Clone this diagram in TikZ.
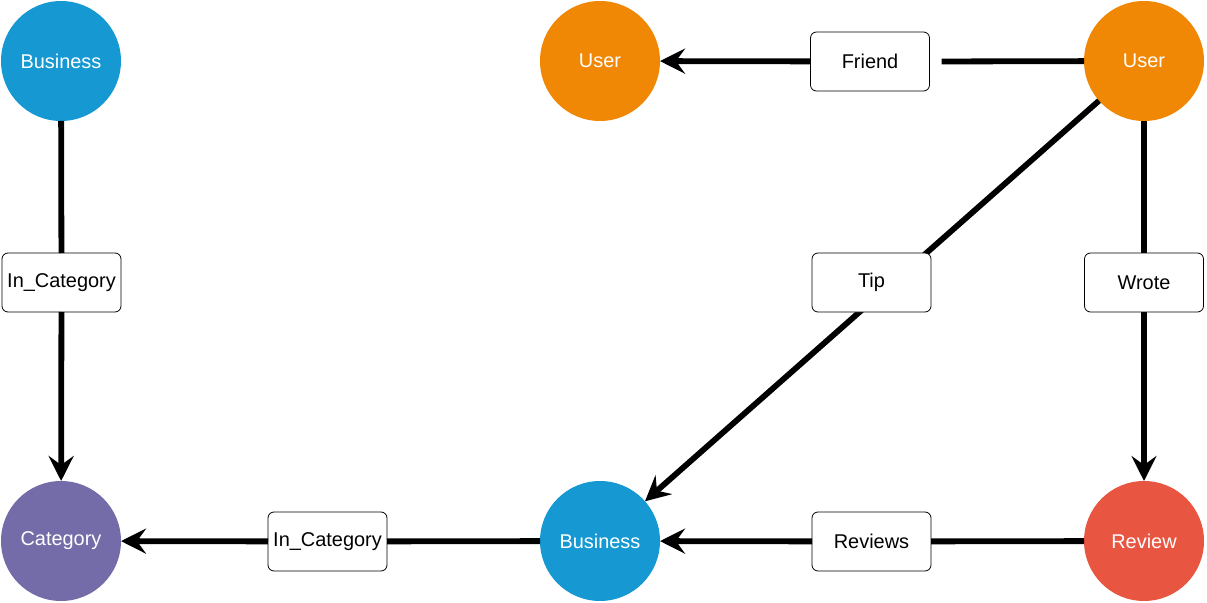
\documentclass[tikz,border=0pt]{standalone}
\usepackage{fontspec}
\setmainfont{Liberation Sans}
\usetikzlibrary{arrows.meta}
\definecolor{bizblue}{HTML}{1699D3}
\definecolor{userorange}{HTML}{F08705}
\definecolor{catpurple}{HTML}{736CA8}
\definecolor{revred}{HTML}{E85642}
\tikzset{
  ent/.style={circle, minimum size=120bp, inner sep=0pt, outer sep=0pt, draw=none, text=white, font=\fontsize{20}{24}\selectfont},
  rel/.style={rectangle, rounded corners=6bp, draw=black, line width=0.8bp, fill=white, minimum width=119bp, minimum height=59bp, inner sep=0pt, outer sep=0pt, font=\fontsize{20}{24}\selectfont},
  conn/.style={line width=5.8bp, draw=black},
  arr/.style={conn, -{Stealth[length=25bp, width=25bp, inset=9bp]}}
}
\begin{document}
\begin{tikzpicture}[x=1bp, y=-1bp]
\useasboundingbox (0,0) rectangle (1207,603);
% entities
\node[ent, fill=bizblue] (b1) at (61,61) {Business};
\node[ent, fill=userorange] (u1) at (600,61) {User};
\node[ent, fill=userorange] (u2) at (1144,61) {User};
\node[ent, fill=catpurple] (cat) at (61,541) {Category};
\node[ent, fill=bizblue] (b2) at (600,541) {Business};
\node[ent, fill=revred] (rev) at (1144,541) {Review};
% connectors
\draw[arr] (u2) -- (b2);
\node[rel] (tip) at (871.5,282.5) {Tip};
\node[rel] (friend) at (870,61.5) {Friend};
\draw[conn, shorten >=12bp] (u2) -- (friend.east);
\draw[arr] (friend) -- (u1);
\node[rel] (incat1) at (61.5,282.5) {In\_Category};
\draw[conn] (b1) -- (incat1);
\draw[arr] (incat1) -- (cat);
\node[rel] (wrote) at (1144,282.5) {Wrote};
\draw[conn] (u2) -- (wrote);
\draw[arr] (wrote) -- (rev);
\node[rel] (reviews) at (871.5,541.5) {Reviews};
\draw[conn] (rev) -- (reviews);
\draw[arr] (reviews) -- (b2);
\node[rel] (incat2) at (327.5,541.5) {In\_Category};
\draw[conn] (b2) -- (incat2);
\draw[arr] (incat2) -- (cat);
\end{tikzpicture}
\end{document}
